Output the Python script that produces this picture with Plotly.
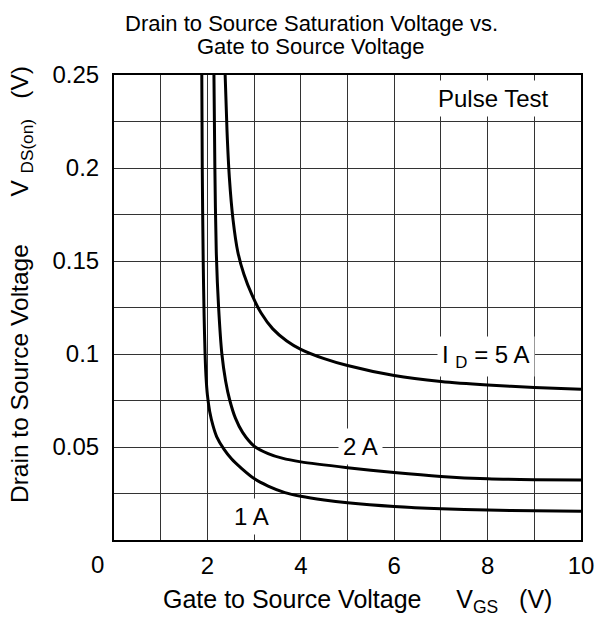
import plotly.graph_objects as go

# ---- data ----
vgs_1a = [1.88, 1.89, 1.91, 1.93, 1.95, 1.97, 2.0, 2.05, 2.12, 2.2, 2.35, 2.52, 2.73, 3.0, 3.3,
          3.66, 4.0, 4.5, 5.0, 6.0, 7.0, 8.0, 9.0, 10.0]
vds_1a = [0.25, 0.20, 0.15, 0.12, 0.10, 0.088, 0.078, 0.069, 0.0615, 0.0555, 0.049, 0.0435, 0.0385,
          0.0330, 0.0290, 0.0255, 0.0235, 0.0215, 0.0200, 0.0180, 0.0168, 0.0161, 0.0157, 0.0155]

vgs_2a = [2.14, 2.16, 2.19, 2.24, 2.31, 2.39, 2.48, 2.6, 2.75, 3.0, 3.3, 3.6, 4.0, 5.0, 6.0, 7.0,
          8.0, 9.0, 10.0]
vds_2a = [0.25, 0.20, 0.155, 0.125, 0.100, 0.0855, 0.075, 0.0655, 0.058, 0.0505, 0.0465, 0.0440,
          0.0420, 0.0389, 0.0363, 0.0342, 0.0329, 0.0324, 0.0322]

vgs_5a = [2.38, 2.42, 2.47, 2.55, 2.65, 2.78, 2.95, 3.15, 3.4, 3.7, 4.0, 4.5, 5.0, 6.0, 7.0, 8.0,
          9.0, 10.0]
vds_5a = [0.25, 0.22, 0.195, 0.172, 0.155, 0.143, 0.132, 0.122, 0.1135, 0.1070, 0.1025, 0.0975,
          0.0938, 0.0884, 0.0852, 0.0833, 0.0820, 0.0810]

x_ticks = [1, 2, 3, 4, 5, 6, 7, 8, 9, 10]
x_ticktext = ["", "2", "", "4", "", "6", "", "8", "", "10"]
y_ticks = [0.025, 0.05, 0.075, 0.1, 0.125, 0.15, 0.175, 0.2, 0.225, 0.25]
y_ticktext = ["", "0.05", "", "0.1", "", "0.15", "", "0.2", "", "0.25"]

FONT = "Liberation Sans, Arial, Helvetica, sans-serif"
W, H = 598, 621
L, R, T, B = 114, 17, 75, 81
PW, PH = W - L - R, H - T - B


def px_x(p):
    return (p - L) / PW


def px_y(p):
    return (H - B - p) / PH


fig = go.Figure()
for xs, ys in [(vgs_1a, vds_1a), (vgs_2a, vds_2a), (vgs_5a, vds_5a)]:
    fig.add_trace(go.Scatter(x=xs, y=ys, mode="lines",
                             line=dict(color="black", width=3, shape="spline", smoothing=0.8),
                             showlegend=False, hoverinfo="skip", cliponaxis=True))

axis_common = dict(showgrid=True, gridcolor="#333333", gridwidth=1, zeroline=False,
                   showline=True, linecolor="black", linewidth=2, mirror=True, automargin=False,
                   ticks="", tickfont=dict(family=FONT, size=24, color="black"))

fig.update_xaxes(range=[0, 10], tickmode="array", tickvals=x_ticks, ticktext=x_ticktext,
                 ticklabelstandoff=3, **axis_common)
fig.update_yaxes(range=[0, 0.25], tickmode="array", tickvals=y_ticks, ticktext=y_ticktext,
                 ticklabelstandoff=8, **axis_common)

nb = "\u00a0"
ann = [
    dict(text="Drain to Source Saturation Voltage vs.", x=px_x(311), y=px_y(23), size=22),
    dict(text="Gate to Source Voltage", x=px_x(311), y=px_y(46), size=22),
    dict(text="0", x=px_x(97), y=px_y(564), size=24),
    dict(text="Gate to Source Voltage" + nb * 5 + "V<sub>GS</sub>" + nb * 3 + "(V)",
         x=px_x(357), y=px_y(601), size=25),
    dict(text="Drain to Source Voltage" + nb * 7 + "V" + nb + "<sub>DS(on)</sub>" + nb * 3 + "(V)",
         x=px_x(21), y=px_y(285), size=24.5, angle=-90),
]
for a in ann:
    fig.add_annotation(text=a["text"], x=a["x"], y=a["y"], xref="paper", yref="paper",
                       xanchor="center", yanchor="middle", showarrow=False,
                       textangle=a.get("angle", 0),
                       font=dict(family=FONT, size=a["size"], color="black"))

labels = [
    ("Pulse Test", 8.12, 0.2374),
    ("I" + nb + "<sub>D</sub> = 5 A", 7.97, 0.0989),
    ("2 A", 5.27, 0.0505),
    ("1 A", 2.95, 0.0124),
]
for t, lx, ly in labels:
    fig.add_annotation(text=t, x=lx, y=ly, xref="x", yref="y", showarrow=False,
                       xanchor="center", yanchor="middle", bgcolor="white", borderpad=4,
                       font=dict(family=FONT, size=24, color="black"))

fig.update_layout(width=W, height=H, margin=dict(l=L, r=R, t=T, b=B, autoexpand=False),
                  paper_bgcolor="white", plot_bgcolor="white",
                  font=dict(family=FONT, color="black"))

fig.write_html("out.html")
